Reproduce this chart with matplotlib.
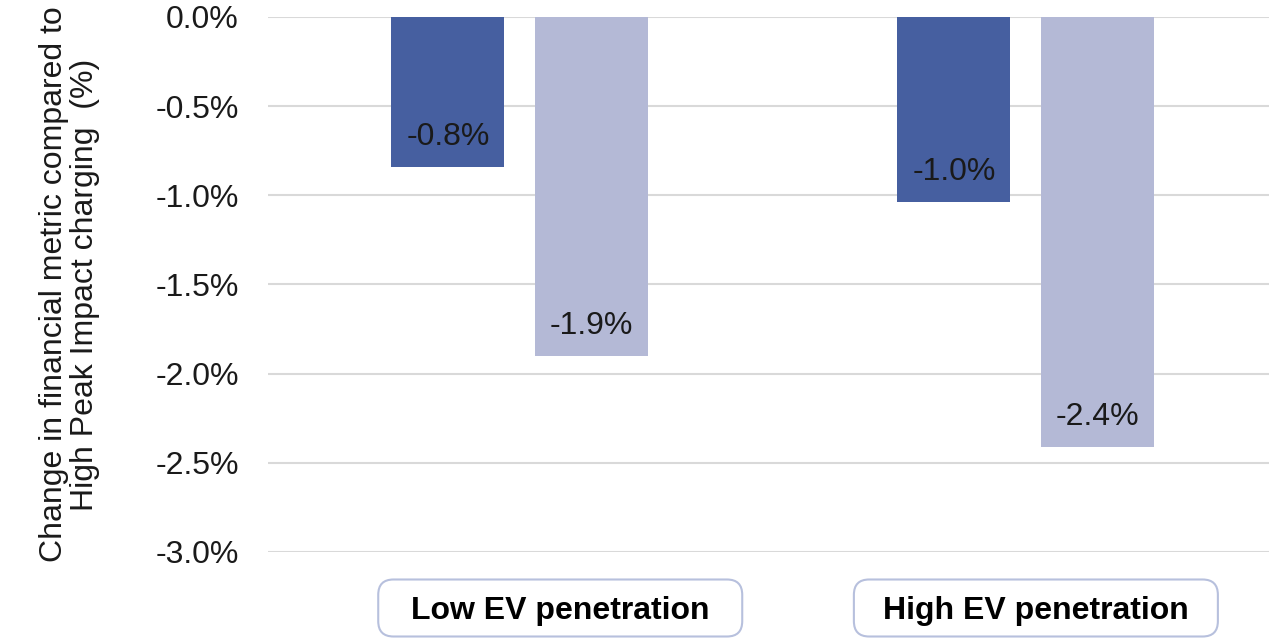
import matplotlib.pyplot as plt
import numpy as np
from matplotlib.patches import FancyBboxPatch
from matplotlib.ticker import FuncFormatter

# Данные
categories = ['Low EV penetration', 'High EV penetration']
series_dark = [-0.84, -1.04]
series_light = [-1.90, -2.41]
yticks = [0.0, -0.5, -1.0, -1.5, -2.0, -2.5, -3.0]

DARK = '#465fa0'
LIGHT = '#b4b9d6'
GRID = '#d9d9d9'
TEXT = '#1a1a1a'

plt.rcParams['font.family'] = ['Liberation Sans', 'DejaVu Sans']
plt.rcParams['font.size'] = 23

fig = plt.figure(figsize=(12.69, 6.39), dpi=100)
ax = fig.add_axes([0.2112, 0.1362, 0.7888, 0.8372])

x = np.arange(len(categories))
width = 0.223
offset = 0.142

bars1 = ax.bar(x - offset, series_dark, width, color=DARK, zorder=3)
bars2 = ax.bar(x + offset, series_light, width, color=LIGHT, zorder=3)

ax.set_xlim(-0.4975, 1.4807)
ax.set_ylim(-3.0, 0.0)
ax.set_yticks(yticks)
ax.yaxis.set_major_formatter(FuncFormatter(lambda v, p: f'{v:.1f}%'))
ax.tick_params(axis='y', length=0, pad=21, labelcolor=TEXT)
ax.set_xticks([])
ax.grid(axis='y', color=GRID, linewidth=1.5, zorder=0)
for s in ax.spines.values():
    s.set_visible(False)

ax.set_ylabel('Change in financial metric compared to\nHigh Peak Impact charging  (%)',
              color=TEXT, linespacing=1.02)
ax.yaxis.set_label_coords(-0.168, 0.5)

# Подписи значений внутри столбцов
for bars in (bars1, bars2):
    for bar in bars:
        h = bar.get_height()
        ax.annotate(f'{h:.1f}%', (bar.get_x() + bar.get_width() / 2, h),
                    xytext=(0, 21.6), textcoords='offset points',
                    ha='center', va='center', color=TEXT, zorder=4)

# Подписи категорий в рамках
label_shift = [0.08, 0.02]
fig.canvas.draw()
for i, name in enumerate(categories):
    xd = x[i] + label_shift[i]
    xf = fig.transFigure.inverted().transform(ax.transData.transform((xd, 0)))[0]
    yc = 1 - 608 / 639
    bw, bh = 364 / 1269, 57 / 639
    box = FancyBboxPatch((xf - bw / 2, yc - bh / 2), bw, bh,
                         boxstyle='round,pad=0,rounding_size=0.012',
                         transform=fig.transFigure, facecolor='white',
                         edgecolor='#b7c0dd', linewidth=1.5, mutation_aspect=2.0)
    fig.patches.append(box)
    fig.text(xf, yc - 3 / 639, name, ha='center', va='center',
             fontweight='bold', color='black')

fig.savefig('out.png', dpi=100)
